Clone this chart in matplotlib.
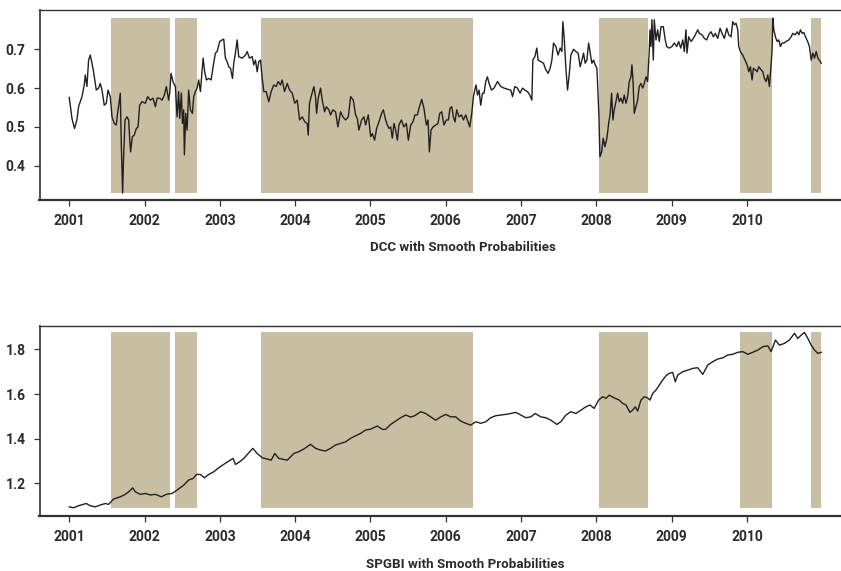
import numpy as np
import matplotlib
matplotlib.use('Agg')
import matplotlib.pyplot as plt

plt.rcParams['font.family'] = ['Roboto', 'DejaVu Sans']

# =============================================================================
# Data (time in years after 1 Jan 2001)

dcc_t = [0.000, 0.036, 0.070, 0.102, 0.124, 0.169, 0.199, 0.213, 0.235, 0.257,
         0.279, 0.302, 0.323, 0.359, 0.390, 0.412, 0.435, 0.465, 0.492, 0.515,
         0.545, 0.568, 0.598, 0.625, 0.642, 0.661, 0.678, 0.691, 0.709, 0.722,
         0.741, 0.767, 0.789, 0.802, 0.815, 0.838, 0.864, 0.891, 0.914, 0.935,
         0.967, 1.011, 1.041, 1.077, 1.113, 1.144, 1.166, 1.201, 1.233, 1.263,
         1.290, 1.320, 1.334, 1.352, 1.379, 1.410, 1.432, 1.453, 1.467, 1.489,
         1.503, 1.520, 1.529, 1.547, 1.565, 1.586, 1.609, 1.636, 1.653, 1.676,
         1.698, 1.719, 1.742, 1.778, 1.799, 1.822, 1.852, 1.884, 1.911, 1.941,
         1.964, 1.999, 2.031, 2.052, 2.074, 2.097, 2.118, 2.141, 2.168, 2.185,
         2.207, 2.230, 2.251, 2.297, 2.340, 2.363, 2.394, 2.430, 2.451, 2.473,
         2.496, 2.517, 2.540, 2.563, 2.584, 2.616, 2.650, 2.682, 2.717, 2.749,
         2.775, 2.806, 2.828, 2.859, 2.895, 2.926, 2.961, 2.996, 3.028, 3.059,
         3.094, 3.129, 3.161, 3.174, 3.191, 3.218, 3.249, 3.271, 3.285, 3.307,
         3.338, 3.360, 3.391, 3.414, 3.448, 3.471, 3.501, 3.537, 3.568, 3.604,
         3.634, 3.670, 3.706, 3.737, 3.773, 3.803, 3.826, 3.847, 3.883, 3.914,
         3.936, 3.972, 4.003, 4.025, 4.056, 4.082, 4.113, 4.149, 4.172, 4.202,
         4.225, 4.246, 4.269, 4.291, 4.313, 4.335, 4.358, 4.379, 4.411, 4.445,
         4.477, 4.504, 4.535, 4.565, 4.592, 4.624, 4.645, 4.681, 4.711, 4.743,
         4.765, 4.783, 4.805, 4.831, 4.867, 4.898, 4.920, 4.947, 4.977, 5.009,
         5.036, 5.057, 5.080, 5.102, 5.124, 5.146, 5.177, 5.209, 5.235, 5.266,
         5.297, 5.319, 5.346, 5.368, 5.386, 5.403, 5.422, 5.443, 5.465, 5.488,
         5.509, 5.532, 5.554, 5.576, 5.608, 5.642, 5.688, 5.731, 5.775, 5.820,
         5.864, 5.887, 5.918, 5.953, 5.988, 6.020, 6.051, 6.086, 6.117, 6.144,
         6.157, 6.184, 6.210, 6.227, 6.263, 6.299, 6.330, 6.360, 6.387, 6.410,
         6.432, 6.463, 6.493, 6.520, 6.543, 6.556, 6.573, 6.596, 6.618, 6.640,
         6.662, 6.698, 6.729, 6.759, 6.786, 6.809, 6.831, 6.852, 6.875, 6.898,
         6.919, 6.941, 6.964, 6.985, 7.008, 7.017, 7.035, 7.048, 7.071, 7.092,
         7.114, 7.141, 7.164, 7.185, 7.203, 7.221, 7.238, 7.261, 7.283, 7.305,
         7.327, 7.350, 7.371, 7.394, 7.416, 7.438, 7.460, 7.473, 7.487, 7.504,
         7.527, 7.549, 7.570, 7.593, 7.616, 7.637, 7.660, 7.682, 7.704, 7.713,
         7.726, 7.739, 7.757, 7.770, 7.793, 7.815, 7.836, 7.859, 7.890, 7.916,
         7.935, 7.969, 8.005, 8.036, 8.068, 8.094, 8.121, 8.148, 8.169, 8.191,
         8.205, 8.227, 8.258, 8.289, 8.315, 8.347, 8.368, 8.404, 8.435, 8.467,
         8.493, 8.524, 8.555, 8.581, 8.613, 8.644, 8.670, 8.701, 8.733, 8.759,
         8.790, 8.812, 8.834, 8.856, 8.879, 8.892, 8.914, 8.945, 8.976, 9.003,
         9.025, 9.047, 9.069, 9.086, 9.113, 9.136, 9.158, 9.189, 9.211, 9.233,
         9.255, 9.278, 9.299, 9.318, 9.335, 9.344, 9.358, 9.379, 9.402, 9.424,
         9.445, 9.468, 9.491, 9.521, 9.557, 9.588, 9.610, 9.641, 9.668, 9.690,
         9.711, 9.734, 9.757, 9.778, 9.807, 9.831, 9.854, 9.876, 9.898, 9.920,
         9.943, 9.964, 9.987]
dcc = [0.576, 0.522, 0.496, 0.518, 0.552, 0.578, 0.608, 0.634, 0.604, 0.672,
       0.685, 0.664, 0.642, 0.595, 0.600, 0.612, 0.595, 0.556, 0.561, 0.595,
       0.578, 0.526, 0.509, 0.505, 0.535, 0.561, 0.587, 0.458, 0.330, 0.423,
       0.518, 0.526, 0.518, 0.471, 0.436, 0.475, 0.479, 0.496, 0.500, 0.556,
       0.565, 0.561, 0.578, 0.569, 0.574, 0.552, 0.574, 0.574, 0.569, 0.582,
       0.604, 0.569, 0.587, 0.638, 0.616, 0.604, 0.526, 0.591, 0.522, 0.587,
       0.509, 0.544, 0.428, 0.535, 0.492, 0.595, 0.544, 0.535, 0.578, 0.591,
       0.600, 0.621, 0.591, 0.677, 0.642, 0.621, 0.625, 0.621, 0.655, 0.690,
       0.694, 0.720, 0.724, 0.726, 0.677, 0.668, 0.655, 0.651, 0.625, 0.664,
       0.690, 0.724, 0.681, 0.677, 0.685, 0.694, 0.677, 0.681, 0.660, 0.672,
       0.642, 0.668, 0.672, 0.625, 0.591, 0.591, 0.565, 0.591, 0.608, 0.604,
       0.617, 0.608, 0.621, 0.591, 0.612, 0.595, 0.587, 0.561, 0.569, 0.518,
       0.526, 0.513, 0.509, 0.479, 0.561, 0.582, 0.604, 0.578, 0.535, 0.574,
       0.600, 0.569, 0.539, 0.552, 0.544, 0.531, 0.544, 0.539, 0.500, 0.539,
       0.526, 0.518, 0.526, 0.578, 0.569, 0.531, 0.522, 0.492, 0.518, 0.526,
       0.505, 0.531, 0.475, 0.483, 0.466, 0.496, 0.513, 0.535, 0.544, 0.518,
       0.505, 0.496, 0.500, 0.471, 0.509, 0.492, 0.466, 0.505, 0.518, 0.500,
       0.509, 0.466, 0.505, 0.513, 0.531, 0.531, 0.548, 0.571, 0.548, 0.505,
       0.518, 0.436, 0.492, 0.500, 0.505, 0.509, 0.535, 0.539, 0.505, 0.518,
       0.518, 0.548, 0.552, 0.526, 0.513, 0.544, 0.526, 0.531, 0.518, 0.531,
       0.513, 0.500, 0.535, 0.578, 0.595, 0.608, 0.582, 0.595, 0.556, 0.587,
       0.587, 0.617, 0.629, 0.612, 0.595, 0.600, 0.617, 0.604, 0.600, 0.597,
       0.595, 0.578, 0.604, 0.600, 0.587, 0.600, 0.595, 0.591, 0.582, 0.569,
       0.672, 0.681, 0.703, 0.672, 0.668, 0.664, 0.647, 0.638, 0.651, 0.672,
       0.716, 0.707, 0.685, 0.703, 0.694, 0.771, 0.732, 0.651, 0.595, 0.634,
       0.685, 0.700, 0.694, 0.690, 0.655, 0.672, 0.690, 0.664, 0.672, 0.716,
       0.690, 0.664, 0.672, 0.660, 0.651, 0.612, 0.526, 0.423, 0.436, 0.471,
       0.449, 0.471, 0.509, 0.535, 0.587, 0.518, 0.544, 0.565, 0.587, 0.565,
       0.574, 0.561, 0.582, 0.561, 0.578, 0.617, 0.629, 0.660, 0.621, 0.535,
       0.552, 0.569, 0.604, 0.612, 0.600, 0.612, 0.629, 0.617, 0.698, 0.750,
       0.707, 0.776, 0.672, 0.776, 0.724, 0.750, 0.720, 0.758, 0.758, 0.724,
       0.707, 0.703, 0.707, 0.716, 0.707, 0.720, 0.703, 0.724, 0.694, 0.750,
       0.690, 0.732, 0.720, 0.728, 0.737, 0.750, 0.741, 0.737, 0.728, 0.724,
       0.737, 0.745, 0.732, 0.741, 0.728, 0.754, 0.741, 0.728, 0.754, 0.737,
       0.732, 0.771, 0.763, 0.767, 0.750, 0.707, 0.694, 0.685, 0.672, 0.660,
       0.642, 0.655, 0.621, 0.651, 0.647, 0.642, 0.655, 0.647, 0.642, 0.625,
       0.617, 0.634, 0.604, 0.651, 0.698, 0.780, 0.750, 0.732, 0.720, 0.724,
       0.707, 0.716, 0.716, 0.720, 0.724, 0.732, 0.741, 0.737, 0.745, 0.737,
       0.750, 0.741, 0.743, 0.732, 0.720, 0.707, 0.672, 0.690, 0.677, 0.694,
       0.677, 0.672, 0.664]

spgbi_t = [0.000, 0.057, 0.124, 0.226, 0.279, 0.346, 0.412, 0.479, 0.523, 0.589,
           0.678, 0.745, 0.802, 0.842, 0.878, 0.944, 1.011, 1.077, 1.144, 1.223,
           1.290, 1.366, 1.432, 1.520, 1.586, 1.645, 1.689, 1.742, 1.795, 1.852,
           1.919, 1.985, 2.052, 2.118, 2.177, 2.207, 2.265, 2.318, 2.384, 2.438,
           2.496, 2.563, 2.629, 2.682, 2.730, 2.783, 2.850, 2.895, 2.939, 2.983,
           3.049, 3.116, 3.205, 3.271, 3.338, 3.404, 3.471, 3.537, 3.604, 3.670,
           3.737, 3.803, 3.870, 3.936, 4.003, 4.092, 4.158, 4.202, 4.269, 4.335,
           4.402, 4.468, 4.535, 4.588, 4.668, 4.734, 4.801, 4.867, 4.934, 5.000,
           5.066, 5.133, 5.199, 5.266, 5.332, 5.399, 5.465, 5.532, 5.598, 5.665,
           5.731, 5.798, 5.864, 5.931, 5.997, 6.064, 6.130, 6.188, 6.263, 6.330,
           6.396, 6.476, 6.529, 6.596, 6.662, 6.729, 6.795, 6.862, 6.915, 6.972,
           7.031, 7.084, 7.128, 7.172, 7.238, 7.305, 7.350, 7.394, 7.447, 7.483,
           7.517, 7.549, 7.593, 7.637, 7.682, 7.713, 7.749, 7.793, 7.836, 7.882,
           7.926, 7.969, 8.015, 8.049, 8.081, 8.148, 8.214, 8.281, 8.347, 8.414,
           8.480, 8.547, 8.613, 8.680, 8.746, 8.812, 8.879, 8.945, 9.012, 9.078,
           9.145, 9.211, 9.278, 9.322, 9.379, 9.432, 9.499, 9.565, 9.632, 9.676,
           9.721, 9.765, 9.810, 9.854, 9.898, 9.943, 9.987]
spgbi = [1.095, 1.091, 1.100, 1.110, 1.100, 1.095, 1.103, 1.110, 1.106, 1.130,
         1.140, 1.151, 1.166, 1.180, 1.162, 1.151, 1.155, 1.148, 1.151, 1.140,
         1.151, 1.155, 1.170, 1.192, 1.215, 1.222, 1.240, 1.240, 1.225, 1.240,
         1.252, 1.270, 1.285, 1.300, 1.312, 1.285, 1.297, 1.312, 1.337, 1.357,
         1.334, 1.315, 1.309, 1.304, 1.334, 1.312, 1.307, 1.304, 1.319, 1.334,
         1.342, 1.354, 1.375, 1.357, 1.349, 1.345, 1.357, 1.372, 1.379, 1.386,
         1.402, 1.413, 1.424, 1.439, 1.443, 1.457, 1.442, 1.442, 1.464, 1.479,
         1.494, 1.506, 1.497, 1.503, 1.521, 1.513, 1.498, 1.483, 1.498, 1.509,
         1.498, 1.498, 1.479, 1.469, 1.461, 1.476, 1.469, 1.476, 1.494, 1.503,
         1.506, 1.509, 1.513, 1.518, 1.506, 1.494, 1.498, 1.513, 1.498, 1.494,
         1.483, 1.464, 1.476, 1.506, 1.521, 1.513, 1.528, 1.543, 1.551, 1.536,
         1.573, 1.588, 1.581, 1.595, 1.583, 1.573, 1.558, 1.551, 1.518, 1.528,
         1.543, 1.524, 1.573, 1.588, 1.583, 1.573, 1.603, 1.618, 1.640, 1.663,
         1.682, 1.693, 1.697, 1.655, 1.685, 1.700, 1.707, 1.715, 1.718, 1.688,
         1.730, 1.745, 1.757, 1.762, 1.775, 1.778, 1.787, 1.790, 1.778, 1.787,
         1.797, 1.812, 1.816, 1.790, 1.842, 1.819, 1.827, 1.842, 1.872, 1.849,
         1.864, 1.876, 1.849, 1.819, 1.797, 1.782, 1.787]

# high-probability regime spans (years)
regime_start = [2001.559, 2002.410, 2003.553, 2008.035, 2009.910, 2010.854]
regime_end = [2002.343, 2002.700, 2006.360, 2008.686, 2010.335, 2010.987]

year_ticks = list(range(2001, 2011))
titles = ['DCC with Smooth Probabilities', 'SPGBI with Smooth Probabilities']

# =============================================================================

W, H = 841, 571
fig = plt.figure(figsize=(W / 100, H / 100), dpi=100)

shade = '#c8bfa3'
ink = '#231f20'
txt = '#2b2b2b'

def make_axes(top, bottom):
    return fig.add_axes([39.5 / W, 1 - bottom / H, (W - 39.5) / W, (bottom - top) / H])

ax1 = make_axes(10, 200)
ax2 = make_axes(325.5, 516)

panels = [
    (ax1, dcc_t, dcc, (0.312, 0.801), [0.4, 0.5, 0.6, 0.7], '{:.1f}'),
    (ax2, spgbi_t, spgbi, (1.054, 1.907), [1.2, 1.4, 1.6, 1.8], '{:.1f}'),
]

for ax, t, y, ylim, yticks, fmt in panels:
    x = 2001 + np.array(t)
    y = np.array(y)
    lo, hi = y.min(), y.max()
    for s, e in zip(regime_start, regime_end):
        ax.fill_between([s, e], lo, hi, color=shade, lw=0, zorder=1)
    ax.plot(x, y, color=ink, lw=1.0, zorder=3)
    ax.set_xlim(2000.605, 2011.25)
    ax.set_ylim(*ylim)
    ax.set_xticks(year_ticks)
    ax.set_xticklabels([str(v) for v in year_ticks])
    ax.set_yticks(yticks)
    ax.set_yticklabels([fmt.format(v) for v in yticks])
    ax.spines['right'].set_visible(False)
    ax.spines['top'].set_linewidth(1.0)
    ax.spines['top'].set_color('#333333')
    ax.spines['left'].set_linewidth(1.2)
    ax.spines['left'].set_color('#333333')
    ax.spines['bottom'].set_linewidth(1.6)
    ax.spines['bottom'].set_color('#333333')
    ax.tick_params(direction='out', length=4.5, width=0.9, color='#333333',
                   labelcolor=txt, labelsize=10, pad=5.5)
    for lab in ax.get_xticklabels() + ax.get_yticklabels():
        lab.set_fontweight('bold')

fig.text(462.5 / W, 1 - 248 / H, titles[0], ha='center', va='center',
         fontsize=9.6, fontweight='bold', color=txt)
fig.text(465 / W, 1 - 564 / H, titles[1], ha='center', va='center',
         fontsize=9.6, fontweight='bold', color=txt)

fig.savefig('out.png', dpi=100)
